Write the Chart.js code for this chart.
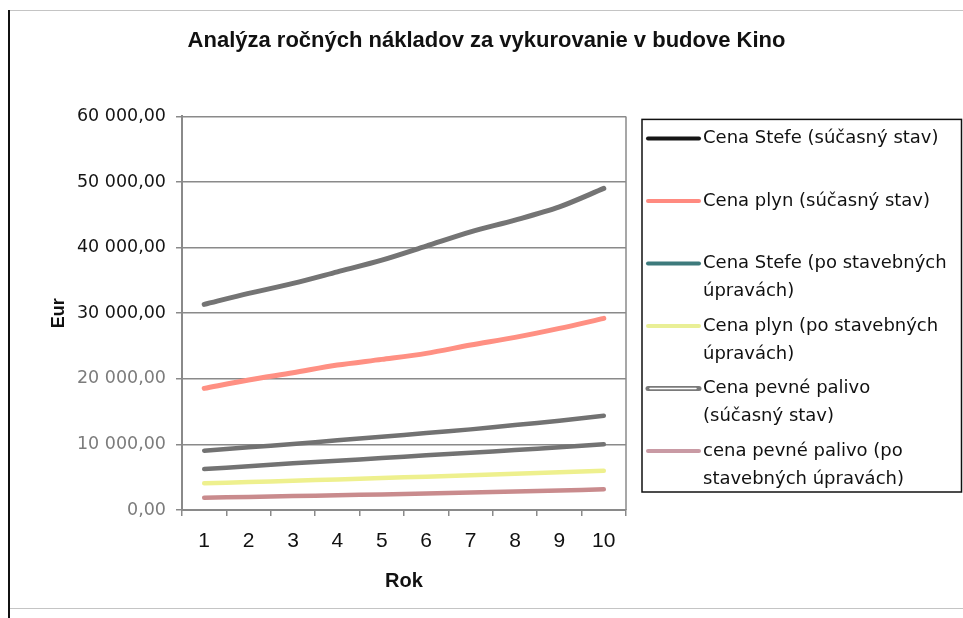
<!DOCTYPE html>
<html>
<head>
    <meta charset="utf-8">
    <title>Analýza ročných nákladov</title>
    <style>
        html, body { margin: 0; padding: 0; background: #fff; }
        .chart-container { width: 963px; height: 618px; }
    </style>
</head>
<body>
<div class="chart-container">
    <canvas id="myChart"></canvas>
</div>
<script src="https://cdn.jsdelivr.net/npm/chart.js"></script>
<script>
    // roky
    const years = ['1', '2', '3', '4', '5', '6', '7', '8', '9', '10'];

    // hodnoty odčítané z grafu (Eur)
    const stefeNow = [31340, 33020, 34540, 36310, 38090, 40230, 42400, 44190, 46210, 49020];
    const plynNow = [18540, 19810, 20920, 22090, 22960, 23880, 25140, 26310, 27680, 29210];
    const stefeAfter = [9040, 9550, 10060, 10620, 11170, 11730, 12290, 12950, 13610, 14370];
    const plynAfter = [4070, 4260, 4460, 4660, 4870, 5080, 5300, 5520, 5750, 5990];
    const palivoNow = [6250, 6660, 7120, 7510, 7920, 8330, 8730, 9140, 9550, 10010];
    const palivoAfter = [1880, 2000, 2120, 2250, 2380, 2520, 2660, 2820, 2980, 3150];

    const yTickValues = [0, 10000, 20000, 30000, 40000, 50000, 60000];

    const seriesNames = [
        'Cena Stefe (súčasný stav)',
        'Cena plyn (súčasný stav)',
        'Cena Stefe (po stavebných úpravách)',
        'Cena plyn (po stavebných úpravách)',
        'Cena pevné palivo (súčasný stav)',
        'cena pevné palivo (po stavebných úpravách)'
    ];
    // riadky legendy tak, ako sú zalomené v predlohe
    const legendLines = [
        ['Cena Stefe (súčasný stav)'],
        ['Cena plyn (súčasný stav)'],
        ['Cena Stefe (po stavebných', 'úpravách)'],
        ['Cena plyn (po stavebných', 'úpravách)'],
        ['Cena pevné palivo', '(súčasný stav)'],
        ['cena pevné palivo (po', 'stavebných úpravách)']
    ];

    const lineColors = ['#747474', '#ff9083', '#727272', '#eef08e', '#737373', '#c98b8d'];
    const legendColors = ['#151515', '#ff8a80', '#3d7a7c', '#e9ef96', '#7a7a7a', '#c99aa4'];

    function fmt(v) {
        return String(v).replace(/\B(?=(\d{3})+(?!\d))/g, ' ') + ',00';
    }

    // rám okolo celého grafu
    const frame = {
        id: 'frame',
        beforeDraw(chart) {
            const ctx = chart.ctx;
            ctx.save();
            ctx.fillStyle = '#fff';
            ctx.fillRect(0, 0, chart.width, chart.height);
            ctx.strokeStyle = '#c4c4c4';
            ctx.lineWidth = 1;
            ctx.beginPath();
            ctx.moveTo(9, 10.5);
            ctx.lineTo(chart.width, 10.5);
            ctx.moveTo(9, chart.height - 9.5);
            ctx.lineTo(chart.width, chart.height - 9.5);
            ctx.stroke();
            ctx.strokeStyle = '#111';
            ctx.lineWidth = 2;
            ctx.beginPath();
            ctx.moveTo(9, 10);
            ctx.lineTo(9, chart.height);
            ctx.stroke();
            ctx.restore();
        },
        afterDatasetsDraw(chart) {
            const a = chart.chartArea;
            const ctx = chart.ctx;
            ctx.save();
            ctx.strokeStyle = '#8a8a8a';
            ctx.lineWidth = 1.5;
            ctx.beginPath();
            ctx.moveTo(a.right, a.top);
            ctx.lineTo(a.right, a.bottom);
            ctx.stroke();
            ctx.restore();
        }
    };

    // legenda v ráme vpravo
    const legendBox = {
        id: 'legendBox',
        afterDraw(chart) {
            const ctx = chart.ctx;
            const a = chart.chartArea;
            const left = a.right + 16;
            const top = a.top + 3;
            const right = chart.width - 1.5;
            const bottom = a.bottom - 18;
            ctx.save();
            ctx.strokeStyle = '#111';
            ctx.lineWidth = 1.5;
            ctx.strokeRect(left, top, right - left, bottom - top);

            ctx.font = '18px "DejaVu Sans"';
            ctx.textBaseline = 'middle';
            ctx.textAlign = 'left';
            ctx.fillStyle = '#111';
            legendLines.forEach((lines, i) => {
                const y = top + 19 + i * 62.5;
                ctx.lineCap = 'round';
                if (i === 4) {
                    ctx.strokeStyle = '#7a7a7a';
                    ctx.lineWidth = 5;
                    ctx.beginPath(); ctx.moveTo(left + 6, y); ctx.lineTo(left + 57, y); ctx.stroke();
                    ctx.strokeStyle = '#fff';
                    ctx.lineWidth = 1.5;
                    ctx.beginPath(); ctx.moveTo(left + 8, y); ctx.lineTo(left + 54, y); ctx.stroke();
                } else {
                    ctx.strokeStyle = legendColors[i];
                    ctx.lineWidth = 4;
                    ctx.beginPath(); ctx.moveTo(left + 6, y); ctx.lineTo(left + 57, y); ctx.stroke();
                }
                lines.forEach((t, j) => {
                    ctx.fillText(t, left + 61, y + j * 28);
                });
            });
            ctx.restore();
        }
    };

    const allSeries = [stefeNow, plynNow, stefeAfter, plynAfter, palivoNow, palivoAfter];

    const chartConfig = {
        type: 'line',
        data: {
            labels: years,
            datasets: allSeries.map((values, i) => ({
                label: seriesNames[i],
                data: values,
                borderColor: lineColors[i],
                backgroundColor: lineColors[i],
                borderWidth: i < 2 ? 5 : 4.5,
                borderCapStyle: 'round',
                pointRadius: 0,
                tension: 0.3
            }))
        },
        options: {
            responsive: true,
            maintainAspectRatio: false,
            animation: false,
            layout: { padding: { left: 10, right: 0, top: 0, bottom: 21 } },
            plugins: {
                legend: { display: false },
                tooltip: { enabled: false },
                title: {
                    display: true,
                    text: 'Analýza ročných nákladov za vykurovanie v budove Kino',
                    color: '#111',
                    font: { family: '"Liberation Sans", Arial', size: 22, weight: 'bold' },
                    padding: { top: 28, bottom: 62 }
                }
            },
            scales: {
                x: {
                    offset: true,
                    grid: {
                        display: true,
                        drawOnChartArea: false,
                        offset: true,
                        tickLength: 6,
                        color: '#8a8a8a',
                        lineWidth: 1.5
                    },
                    border: { color: '#8a8a8a', width: 2 },
                    ticks: {
                        color: '#111',
                        padding: 13,
                        font: { family: '"Liberation Sans", Arial', size: 21 }
                    },
                    title: {
                        display: true,
                        text: 'Rok',
                        color: '#111',
                        font: { family: '"Liberation Sans", Arial', size: 20, weight: 'bold' },
                        padding: { top: 4, bottom: 4 }
                    },
                    afterFit(scale) { scale.height = 87; }
                },
                y: {
                    min: 0,
                    max: 60000,
                    afterBuildTicks(scale) {
                        scale.ticks = yTickValues.map(v => ({ value: v }));
                    },
                    grid: {
                        color: '#8a8a8a',
                        lineWidth: 1.5,
                        tickLength: 6
                    },
                    border: { color: '#8a8a8a', width: 2 },
                    ticks: {
                        padding: 10,
                        color: (c) => (c.tick && c.tick.value >= 30000 ? '#151515' : '#7c7c7c'),
                        font: { family: '"DejaVu Sans"', size: 17.5 },
                        callback: (v) => fmt(v)
                    },
                    title: {
                        display: true,
                        text: 'Eur',
                        color: '#111',
                        font: { family: '"Liberation Sans", Arial', size: 18, weight: 'bold' },
                        padding: { top: 38, bottom: 0 }
                    },
                    afterFit(scale) { scale.width = 172; }
                },
                // prázdna os vpravo, drží miesto pre legendu
                legendSpace: {
                    type: 'linear',
                    position: 'right',
                    display: true,
                    grid: { display: false },
                    border: { display: false },
                    ticks: { display: false },
                    afterFit(scale) { scale.width = 337; }
                }
            }
        },
        plugins: [frame, legendBox]
    };

    const canvas = document.getElementById('myChart');
    const chart = new Chart(canvas, chartConfig);
</script>
</body>
</html>
